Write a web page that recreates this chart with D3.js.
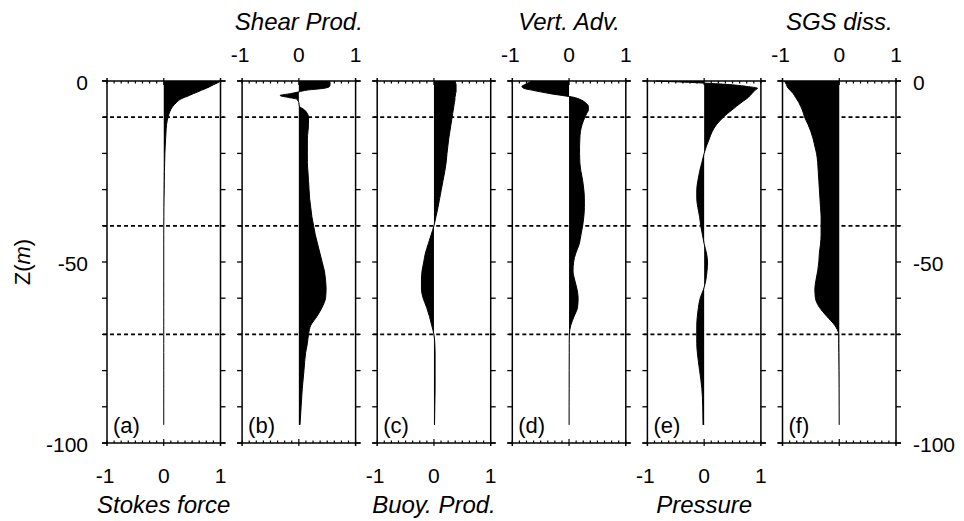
<!DOCTYPE html>
<html>
<head>
<meta charset="utf-8">
<script src="https://cdn.jsdelivr.net/npm/d3@7"></script>
<style>
	body { margin: 0; background: #fff; }
	svg { display: block; font-family: 'Liberation Sans', Arial, sans-serif; }
	.title { font-style: italic; font-size: 24px; }
	.tick-label { font-size: 21px; }
	.letter { font-size: 22px; }
</style>
</head>
<body>
<svg width="964" height="521"></svg>
<script>
const svg = d3.select('svg');

const width = +svg.attr('width');
const height = +svg.attr('height');

//depth grid shared by all profiles (m)
const depth = [0, -0.5, -1, -1.5, -2, -2.5, -3, -3.5, -4, -4.5, -5, -6, -7, -8, -9, -10,
	-12, -14, -16, -18, -20, -22.5, -25, -27.5, -30, -32.5, -35, -37.5, -40, -42.5, -45, -47.5,
	-50, -52.5, -55, -57.5, -60, -62.5, -65, -67.5, -70, -72.5, -75, -80, -85, -90, -95];

//normalised budget terms
const stokesForce = [1.0, 0.95, 0.88, 0.82, 0.75, 0.67, 0.6, 0.52, 0.45, 0.37, 0.3, 0.22, 0.16, 0.12, 0.095, 0.075,
	0.05, 0.04, 0.033, 0.026, 0.02, 0.016, 0.012, 0.01, 0.008, 0.005, 0.003, 0.002, 0.001, 0, 0, 0,
	0, 0, 0, 0, 0, 0, 0, 0, 0, 0, 0, 0, 0, 0, 0];
const shearProd = [0.54, 0.55, 0.55, 0.54, 0.45, 0.15, 0, -0.15, -0.33, -0.2, -0.04, 0, 0.01, 0.1, 0.15, 0.17,
	0.17, 0.16, 0.15, 0.15, 0.15, 0.15, 0.16, 0.17, 0.18, 0.19, 0.21, 0.23, 0.26, 0.29, 0.33, 0.37,
	0.41, 0.45, 0.47, 0.48, 0.47, 0.41, 0.32, 0.21, 0.17, 0.15, 0.12, 0.09, 0.06, 0.04, 0.02];
const buoyProd = [0.36, 0.38, 0.39, 0.39, 0.39, 0.39, 0.39, 0.38, 0.38, 0.37, 0.37, 0.36, 0.35, 0.34, 0.33, 0.32,
	0.3, 0.28, 0.26, 0.245, 0.23, 0.215, 0.19, 0.16, 0.13, 0.1, 0.07, 0.035, 0, -0.05, -0.1, -0.15,
	-0.18, -0.21, -0.22, -0.22, -0.19, -0.13, -0.08, -0.04, 0, 0.015, 0.02, 0.02, 0.02, 0.015, 0.01];
const vertAdv = [-0.65, -0.72, -0.78, -0.83, -0.8, -0.66, -0.5, -0.33, -0.12, 0.08, 0.18, 0.29, 0.34, 0.34, 0.31, 0.28,
	0.23, 0.2, 0.19, 0.185, 0.185, 0.19, 0.21, 0.24, 0.26, 0.27, 0.27, 0.26, 0.24, 0.21, 0.18, 0.12,
	0.08, 0.07, 0.1, 0.14, 0.16, 0.15, 0.09, 0.03, 0.005, 0.003, 0.003, 0.002, 0.002, 0.001, 0.001];
const pressure = [-0.85, -0.1, 0.45, 0.75, 0.94, 0.9, 0.87, 0.84, 0.81, 0.78, 0.74, 0.65, 0.57, 0.49, 0.41, 0.34,
	0.22, 0.14, 0.09, 0.04, 0, -0.04, -0.08, -0.11, -0.13, -0.13, -0.11, -0.08, -0.06, -0.03, 0, 0.04,
	0.06, 0.05, 0.03, -0.01, -0.07, -0.1, -0.12, -0.13, -0.13, -0.13, -0.12, -0.08, -0.04, -0.025, -0.02];
const sgsDiss = [-0.96, -0.95, -0.93, -0.92, -0.9, -0.87, -0.84, -0.81, -0.79, -0.77, -0.75, -0.71, -0.68, -0.65, -0.63, -0.61,
	-0.55, -0.5, -0.46, -0.43, -0.4, -0.38, -0.37, -0.36, -0.35, -0.34, -0.33, -0.32, -0.32, -0.32, -0.33, -0.35,
	-0.36, -0.38, -0.41, -0.43, -0.42, -0.35, -0.22, -0.08, -0.01, -0.01, -0.008, -0.005, -0.003, -0.002, -0.001];

const panelNames = ['Stokes force', 'Shear Prod.', 'Buoy. Prod.', 'Vert. Adv.', 'Pressure', 'SGS diss.'];
const panelLetters = ['(a)', '(b)', '(c)', '(d)', '(e)', '(f)'];
const panelValues = [stokesForce, shearProd, buoyProd, vertAdv, pressure, sgsDiss];

const xTicks = [-1, 0, 1];
const zTicks = [0, -50, -100];
const layerDepths = [-10, -40, -70];

//layout
const panelLeft = 107;
const panelStep = 135.1;
const panelWidth = 113.5;
const plotTop = 81;
const plotBottom = 443;

const yScale = d3.scaleLinear()
	.domain([0, -100])
	.range([plotTop, plotBottom]);

const minorX = d3.range(-1, 1.0001, 0.125);
const minorZ = d3.range(0, -100.001, -10);

//draw one panel of the profile
const panel = (selection, i) => {
	const x0 = panelLeft + panelStep * i;
	const xScale = d3.scaleLinear()
		.domain([-1, 1])
		.range([x0, x0 + panelWidth]);

	const values = panelValues[i];
	const rows = depth.map((z, j) => ({ z, v: values[j] }));

	const g = selection.append('g').attr('class', 'panel');

	//filled profile
	const area = d3.area()
		.curve(d3.curveMonotoneY)
		.y(d => yScale(d.z))
		.x0(xScale(0))
		.x1(d => xScale(d.v));

	g.append('path')
		.datum(rows)
		.attr('d', area)
		.attr('fill', '#000');

	const line = d3.line()
		.curve(d3.curveMonotoneY)
		.y(d => yScale(d.z))
		.x(d => xScale(d.v));

	g.append('path')
		.datum(rows)
		.attr('d', line)
		.attr('fill', 'none')
		.attr('stroke', '#000')
		.attr('stroke-width', 1);

	//dashed layer boundaries
	g.selectAll('.layer').data(layerDepths)
		.enter().append('line')
			.attr('class', 'layer')
			.attr('x1', xScale(-1) - 4)
			.attr('x2', xScale(1) + 4)
			.attr('y1', d => yScale(d))
			.attr('y2', d => yScale(d))
			.attr('stroke', '#000')
			.attr('stroke-width', 1.7)
			.attr('stroke-dasharray', '4,3');

	//frame
	[plotTop, plotBottom].forEach(yy => {
		g.append('line')
			.attr('x1', xScale(-1) - 5).attr('x2', xScale(1) + 5)
			.attr('y1', yy).attr('y2', yy)
			.attr('stroke', '#000').attr('stroke-width', 1.7);
	});
	[-1, 1].forEach(v => {
		g.append('line')
			.attr('x1', xScale(v)).attr('x2', xScale(v))
			.attr('y1', plotTop - 3).attr('y2', plotBottom + 3)
			.attr('stroke', '#000').attr('stroke-width', 1.5);
	});

	//minor x ticks point inward, the zero tick crosses the axis
	minorX.forEach(v => {
		const major = Math.abs(v) < 1e-6;
		g.append('line')
			.attr('x1', xScale(v)).attr('x2', xScale(v))
			.attr('y1', plotTop - (major ? 3 : 0)).attr('y2', plotTop + (major ? 4 : 2.5))
			.attr('stroke', '#000').attr('stroke-width', 1.2);
		g.append('line')
			.attr('x1', xScale(v)).attr('x2', xScale(v))
			.attr('y1', plotBottom - (major ? 4 : 2.5)).attr('y2', plotBottom + (major ? 3 : 0))
			.attr('stroke', '#000').attr('stroke-width', 1.2);
	});

	//depth ticks point outward on both sides
	minorZ.forEach(z => {
		g.append('line')
			.attr('x1', xScale(-1) - 5).attr('x2', xScale(-1))
			.attr('y1', yScale(z)).attr('y2', yScale(z))
			.attr('stroke', '#000').attr('stroke-width', 1.3);
		g.append('line')
			.attr('x1', xScale(1)).attr('x2', xScale(1) + 5)
			.attr('y1', yScale(z)).attr('y2', yScale(z))
			.attr('stroke', '#000').attr('stroke-width', 1.3);
	});

	//panel letter
	g.append('text')
		.attr('class', 'letter')
		.attr('x', xScale(-1) + 6)
		.attr('y', 433)
		.text(panelLetters[i]);

	//axis labels alternate bottom (a, c, e) and top (b, d, f)
	const onTop = i % 2 === 1;
	const tickY = onTop ? 61.5 : 483;
	const titleY = onTop ? 30 : 513;

	g.selectAll('.xtick').data(xTicks)
		.enter().append('text')
			.attr('class', 'tick-label xtick')
			.attr('text-anchor', 'middle')
			.attr('x', d => xScale(d) + (d < 0 ? -2 : 0))
			.attr('y', tickY)
			.text(d => d);

	g.append('text')
		.attr('class', 'title')
		.attr('text-anchor', 'middle')
		.attr('x', xScale(0))
		.attr('y', titleY)
		.text(panelNames[i]);
};

d3.range(panelNames.length).forEach(i => svg.call(panel, i));

//depth labels on both sides
const lastRight = panelLeft + panelStep * 5 + panelWidth;

svg.selectAll('.zleft').data(zTicks)
	.enter().append('text')
		.attr('class', 'tick-label zleft')
		.attr('text-anchor', 'end')
		.attr('dominant-baseline', 'central')
		.attr('x', 88)
		.attr('y', d => yScale(d) + 1)
		.text(d => d);

svg.selectAll('.zright').data(zTicks)
	.enter().append('text')
		.attr('class', 'tick-label zright')
		.attr('dominant-baseline', 'central')
		.attr('x', lastRight + 17)
		.attr('y', d => yScale(d) + 1)
		.text(d => d);

//vertical axis title
const ztitle = svg.append('text')
	.attr('class', 'letter')
	.attr('text-anchor', 'middle')
	.attr('transform', `translate(30,${yScale(-50)}) rotate(-90)`);
ztitle.append('tspan').text('Z(');
ztitle.append('tspan').attr('font-style', 'italic').text('m');
ztitle.append('tspan').text(')');
</script>
</body>
</html>
